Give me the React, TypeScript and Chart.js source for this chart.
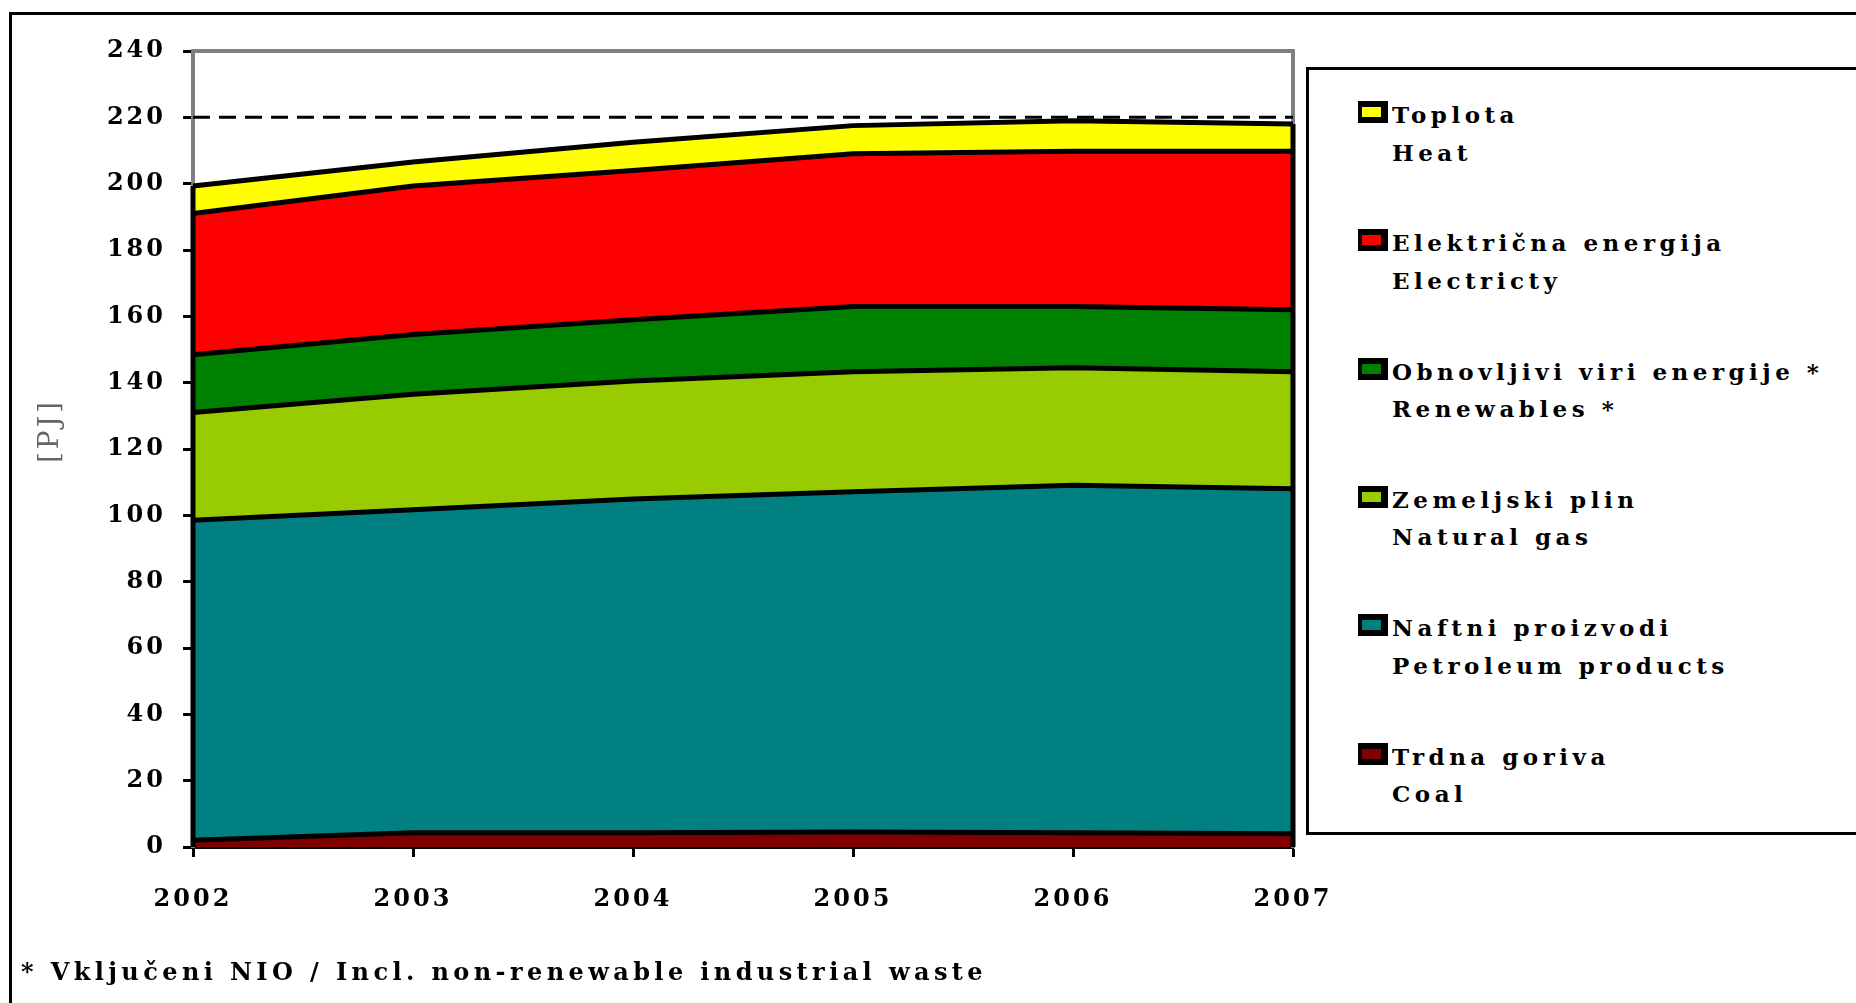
import React, { useEffect, useRef } from 'react';
import { Chart, registerables } from 'chart.js';

Chart.register(...registerables);

// ---- data ----
const years = ['2002', '2003', '2004', '2005', '2006', '2007'];
const coal = [2.0, 4.3, 4.3, 4.5, 4.3, 4.0];
const petroleum = [96.5, 97.4, 100.6, 102.6, 104.8, 104.0];
const naturalGas = [32.5, 34.8, 35.6, 36.2, 35.4, 35.3];
const renewables = [17.4, 18.0, 18.5, 19.7, 18.5, 18.7];
const electricity = [42.6, 44.8, 45.0, 46.0, 46.8, 47.8];
const heat = [8.3, 7.2, 8.5, 8.5, 9.2, 8.2];
const referenceLine = [220, 220, 220, 220, 220, 220];

const yMin = 0;
const yMax = 240;
const yStep = 20;
const yTitle = '   [PJ]';

const seriesData = [coal, petroleum, naturalGas, renewables, electricity, heat];
const seriesNamesSl = ['Trdna goriva', 'Naftni proizvodi', 'Zemeljski plin', 'Obnovljivi viri energije *', 'Električna energija', 'Toplota'];
const seriesNamesEn = ['Coal', 'Petroleum products', 'Natural gas', 'Renewables *', 'Electricty', 'Heat'];
const seriesColors = ['#800000', '#008080', '#99CC00', '#008000', '#FF0000', '#FFFF00'];
const footnote = '* Vključeni NIO / Incl. non-renewable industrial waste';

const FONT = "'DejaVu Serif', 'Liberation Serif', serif";

const spacingPlugin = {
  id: 'letterSpacing',
  beforeUpdate(chart: any) { chart.ctx.letterSpacing = '3px'; },
  beforeDraw(chart: any) { chart.ctx.letterSpacing = '3px'; },
};

const edgePlugin = {
  id: 'areaEdges',
  afterDatasetsDraw(chart: any) {
    const { ctx, scales } = chart;
    const x = scales.x;
    const y = scales.y;
    const first = seriesData.reduce((s, d) => s + d[0], 0);
    const last = seriesData.reduce((s, d) => s + d[d.length - 1], 0);
    ctx.save();
    ctx.strokeStyle = '#000';
    ctx.lineWidth = 5;
    ctx.beginPath();
    const x0 = x.getPixelForValue(0);
    const x1 = x.getPixelForValue(years.length - 1);
    ctx.moveTo(x0, y.getPixelForValue(0));
    ctx.lineTo(x0, y.getPixelForValue(first));
    ctx.moveTo(x1, y.getPixelForValue(0));
    ctx.lineTo(x1, y.getPixelForValue(last));
    ctx.stroke();
    ctx.restore();
  },
};

function ChartCanvas() {
  const ref = useRef<HTMLCanvasElement | null>(null);
  useEffect(() => {
    if (!ref.current) return;
    const datasets: any[] = seriesData.map((d, i) => ({
      label: seriesNamesEn[i],
      data: d,
      backgroundColor: seriesColors[i],
      borderColor: '#000',
      borderWidth: 5,
      fill: i === 0 ? 'origin' : '-1',
      pointRadius: 0,
      tension: 0,
      stack: 'energy',
    }));
    datasets.push({
      label: 'ref',
      data: referenceLine,
      borderColor: '#000',
      borderWidth: 3,
      borderDash: [17, 9],
      fill: false,
      pointRadius: 0,
      stack: 'ref',
      order: -1,
    });
    const chart = new Chart(ref.current, {
      type: 'line',
      data: { labels: years, datasets },
      plugins: [spacingPlugin, edgePlugin],
      options: {
        animation: false,
        responsive: false,
        maintainAspectRatio: false,
        layout: { padding: { left: 30, top: 51, right: 563, bottom: 76 } },
        plugins: { legend: { display: false }, tooltip: { enabled: false } },
        scales: {
          x: {
            type: 'category',
            position: 'bottom',
            offset: false,
            z: 1,
            afterFit: (s: any) => { s.height = 80; },
            grid: { display: true, drawOnChartArea: false, drawTicks: true, tickLength: 10, tickColor: '#000', tickWidth: 3 },
            border: { display: true, color: '#000', width: 4 },
            ticks: { color: '#000', padding: 28, maxRotation: 0, font: { family: FONT, size: 24, weight: 'bold' } },
          },
          xTop: {
            type: 'category',
            position: 'top',
            offset: false,
            afterFit: (s: any) => { s.height = 0; },
            grid: { display: true, drawOnChartArea: false, drawTicks: false },
            border: { display: true, color: '#808080', width: 4 },
            ticks: { display: false },
          },
          y: {
            type: 'linear',
            position: 'left',
            stacked: true,
            min: yMin,
            max: yMax,
            afterFit: (s: any) => { s.width = 163; },
            grid: { display: true, drawOnChartArea: false, drawTicks: true, tickLength: 10, tickColor: '#000', tickWidth: 3 },
            border: { display: true, color: '#808080', width: 4 },
            ticks: { stepSize: yStep, color: '#000', padding: 17, font: { family: FONT, size: 24, weight: 'bold' } },
            title: { display: true, text: yTitle, color: '#666', padding: 4, font: { family: FONT, size: 28, weight: 'normal' } },
          },
          yRight: {
            type: 'linear',
            position: 'right',
            min: yMin,
            max: yMax,
            afterFit: (s: any) => { s.width = 0; },
            grid: { display: true, drawOnChartArea: false, drawTicks: false },
            border: { display: true, color: '#808080', width: 4 },
            ticks: { display: false },
          },
        },
      } as any,
    });
    return () => chart.destroy();
  }, []);
  return <canvas ref={ref} width={1856} height={1003} style={{ position: 'absolute', left: 0, top: 0, width: 1856, height: 1003 }} />;
}

const textStyle: React.CSSProperties = {
  position: 'absolute',
  fontFamily: FONT,
  fontWeight: 'bold',
  fontSize: 23,
  lineHeight: '26px',
  letterSpacing: '4.5px',
  color: '#000',
  whiteSpace: 'nowrap',
};

export default function App() {
  useEffect(() => { document.body.style.margin = '0'; }, []);
  const legendOrder = [5, 4, 3, 2, 1, 0];
  return (
    <div style={{ position: 'absolute', left: 0, top: 0, width: 1856, height: 1003, overflow: 'hidden', background: '#fff' }}>
      <div style={{ position: 'absolute', left: 9, top: 12, width: 2000, height: 1100, borderLeft: '3px solid #000', borderTop: '3px solid #000' }} />
      <ChartCanvas />
      <div style={{ position: 'absolute', left: 1306, top: 67, width: 700, height: 768, border: '3px solid #000', boxSizing: 'border-box', background: '#fff' }} />
      {legendOrder.map((si, k) => {
        const cy = 115 + k * 128.3;
        return (
          <React.Fragment key={si}>
            <div style={{ position: 'absolute', left: 1358, top: cy - 3 - 11, width: 30, height: 22, background: '#000' }}>
              <div style={{ position: 'absolute', left: 4, top: 6, width: 19, height: 10, background: seriesColors[si] }} />
            </div>
            <div style={{ ...textStyle, left: 1392, top: cy - 13 }}>{seriesNamesSl[si]}</div>
            <div style={{ ...textStyle, left: 1392, top: cy + 37.5 - 13 }}>{seriesNamesEn[si]}</div>
          </React.Fragment>
        );
      })}
      <div style={{ ...textStyle, left: 21, top: 972 - 13, fontSize: 24, letterSpacing: '4.4px' }}>{footnote}</div>
    </div>
  );
}
